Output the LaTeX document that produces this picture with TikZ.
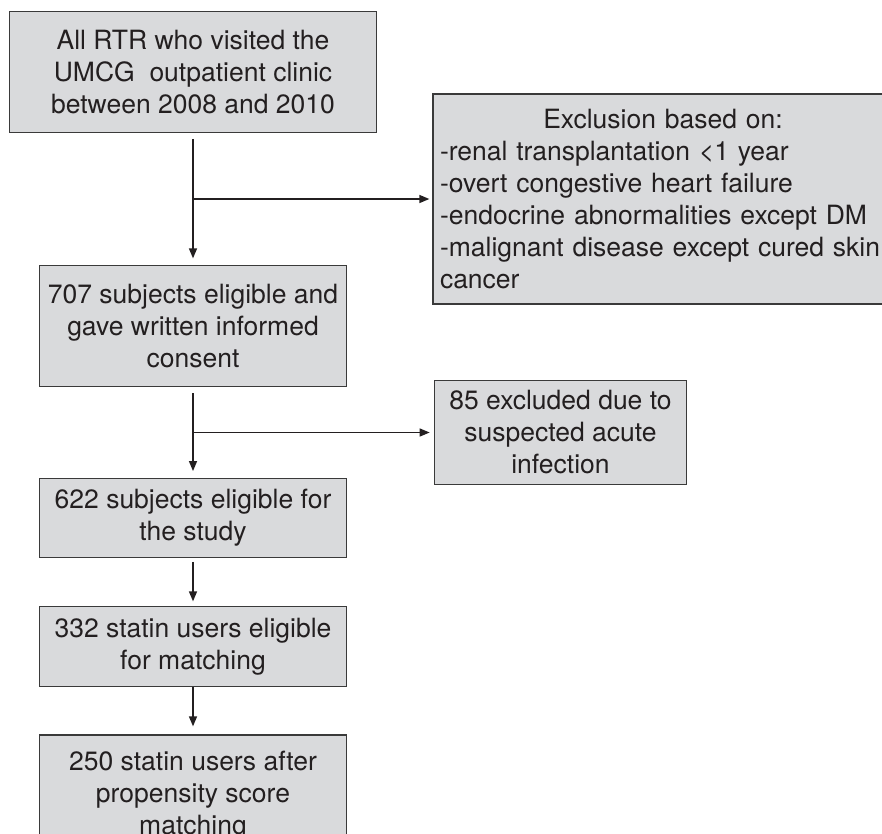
\documentclass[tikz,border=0pt]{standalone}
\usepackage{fontspec}
\setmainfont{TeX Gyre Heros}
\usetikzlibrary{arrows.meta}
\definecolor{boxfill}{HTML}{D9DADC}
\definecolor{boxline}{HTML}{3A3A3A}
\definecolor{ink}{HTML}{231F20}
\begin{document}
\begin{tikzpicture}[x=1pt,y=-1pt,
  every node/.style={font=\fontsize{26.5}{32}\selectfont, text=ink},
  flowbox/.style={draw=boxline, fill=boxfill, line width=1.3pt, align=center, inner sep=0pt},
  arr/.style={draw=ink, line width=1.4pt, -{Triangle[length=10pt,width=8pt]}}]
\clip (0,0) rectangle (882,833);
\node[flowbox, minimum width=367.4pt, minimum height=120.6pt] (all) at (193,72)
  {All RTR who visited the\\UMCG\ \ outpatient clinic\\between 2008 and 2010};
\node[flowbox, minimum width=460pt, minimum height=210pt, text width=446pt, align=left] (excl) at (663,199)
  {\makebox[446pt][c]{Exclusion based on:}\\-renal transplantation <1 year\\-overt congestive heart failure\\-endocrine abnormalities except DM\\-malignant disease except cured skin\\cancer};
\node[flowbox, minimum width=307.4pt, minimum height=121pt] (b707) at (193,326.2)
  {707 subjects eligible and\\gave written informed\\consent};
\node[flowbox, minimum width=252.4pt, minimum height=103.6pt] (b85) at (560.5,432.5)
  {85 excluded due to\\suspected acute\\infection};
\node[flowbox, minimum width=307.4pt, minimum height=79pt] (b622) at (193,517.8)
  {622 subjects eligible for\\the study};
\node[flowbox, minimum width=307.4pt, minimum height=79.6pt] (b332) at (193,646.5)
  {332 statin users eligible\\for matching};
\node[flowbox, minimum width=307.4pt, minimum height=121pt] (b250) at (193,795.5)
  {250 statin users after\\propensity score\\matching};
\coordinate (j1) at (193,199);
\coordinate (j2) at (193,432.5);
\draw[arr, shorten <=6pt, shorten >=6.7pt] (all) -- (b707);
\draw[arr, shorten >=3pt] (j1) -- (excl.west);
\draw[arr, shorten <=6pt, shorten >=6.6pt] (b707) -- (b622);
\draw[arr, shorten >=4pt] (j2) -- (b85.west);
\draw[arr, shorten <=4pt, shorten >=4.7pt] (b622) -- (b332);
\draw[arr, shorten >=8pt] (b332) -- (b250);
\end{tikzpicture}
\end{document}
